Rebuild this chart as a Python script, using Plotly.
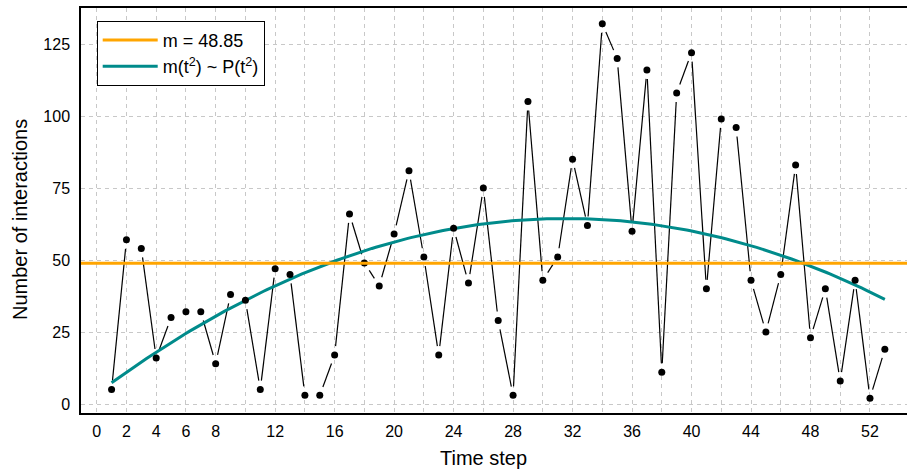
import numpy as np
import plotly.graph_objects as go

# ---- data ----
time_step = list(range(1, 54))
interactions = [5, 57, 54, 16, 30, 32, 32, 14, 38, 36,
                5, 47, 45, 3, 3, 17, 66, 49, 41, 59,
                81, 51, 17, 61, 42, 75, 29, 3, 105, 43,
                51, 85, 62, 132, 120, 60, 116, 11, 108, 122,
                40, 99, 96, 43, 25, 45, 83, 23, 40, 8,
                43, 2, 19]
x_tick_vals = list(range(0, 53, 2))
x_tick_text = ["0", "2", "4", "6", "8", "", "12", "", "16", "", "20", "", "24", "",
               "28", "", "32", "", "36", "", "40", "", "44", "", "48", "", "52"]
y_tick_vals = [0, 25, 50, 75, 100, 125]

t = np.array(time_step, dtype=float)
y = np.array(interactions, dtype=float)
mean_val = y.mean()
coef = np.polyfit(t, y, 2)
t_fit = np.linspace(t.min(), t.max(), 200)
y_fit = np.polyval(coef, t_fit)

# ---- layout geometry ----
W, H = 907, 471
ML, MR, MT, MB = 81, 0, 8, 58
x_range = [-1.056, 54.49]
y_range = [-3.125, 137.5]
sx = (W - ML - MR) / (x_range[1] - x_range[0])
sy = (H - MT - MB) / (y_range[1] - y_range[0])
GAP = 9.0  # px gap around points (type="b" style)

seg_x, seg_y = [], []
for i in range(len(t) - 1):
    dxp = (t[i + 1] - t[i]) * sx
    dyp = (y[i + 1] - y[i]) * sy
    L = np.hypot(dxp, dyp)
    if L <= 2 * GAP:
        continue
    f = GAP / L
    dx = t[i + 1] - t[i]
    dy = y[i + 1] - y[i]
    seg_x += [t[i] + f * dx, t[i + 1] - f * dx, None]
    seg_y += [y[i] + f * dy, y[i + 1] - f * dy, None]

ORANGE = "#FFA500"
TEAL = "#008B8B"
FONT = "Liberation Sans, Arial, sans-serif"

fig = go.Figure()
fig.add_trace(go.Scatter(x=seg_x, y=seg_y, mode="lines",
                         line=dict(color="black", width=1.2),
                         showlegend=False, hoverinfo="skip"))
fig.add_shape(type="line", xref="x domain", yref="y", x0=0, x1=1,
              y0=mean_val, y1=mean_val, line=dict(color=ORANGE, width=3))
fig.add_trace(go.Scatter(x=[None], y=[None], mode="lines",
                         line=dict(color=ORANGE, width=3),
                         name=f"m = {mean_val:.2f}"))
fig.add_trace(go.Scatter(x=t_fit, y=y_fit, mode="lines",
                         line=dict(color=TEAL, width=3),
                         name="m(t<sup>2</sup>) ~ P(t<sup>2</sup>)"))
fig.add_trace(go.Scatter(x=t, y=y, mode="markers",
                         marker=dict(color="black", size=7),
                         showlegend=False))

fig.update_layout(
    width=W, height=H,
    margin=dict(l=ML, r=MR, t=MT, b=MB),
    paper_bgcolor="white", plot_bgcolor="white",
    font=dict(family=FONT, color="black", size=16),
    legend=dict(x=(96.7 - ML) / (W - ML - MR), y=(H - MB - 20.7) / (H - MT - MB),
                xanchor="left", yanchor="top", itemwidth=55,
                bordercolor="black", borderwidth=1, bgcolor="white",
                font=dict(size=18, family=FONT)),
    annotations=[
        dict(text="Time step", x=(483 - ML) / (W - ML - MR), y=(H - MB - 458) / (H - MT - MB),
             xref="paper", yref="paper", showarrow=False, xanchor="center", yanchor="middle",
             font=dict(size=20, family=FONT)),
        dict(text="Number of interactions", x=(20 - ML) / (W - ML - MR),
             y=(H - MB - 220) / (H - MT - MB), textangle=-90,
             xref="paper", yref="paper", showarrow=False, xanchor="center", yanchor="middle",
             font=dict(size=20, family=FONT)),
    ],
)
fig.update_xaxes(range=x_range, tickvals=x_tick_vals, ticktext=x_tick_text,
                 showgrid=True, gridcolor="#c8c8c8", griddash="4px,4px", gridwidth=1,
                 showline=True, linecolor="black", linewidth=1.5, mirror=True,
                 ticks="outside", ticklen=3, tickcolor="rgba(0,0,0,0)",
                 zeroline=False, tickfont=dict(size=16))
fig.update_yaxes(range=y_range, tickvals=y_tick_vals,
                 showgrid=True, gridcolor="#c8c8c8", griddash="4px,4px", gridwidth=1,
                 showline=True, linecolor="black", linewidth=1.5, mirror=False,
                 ticks="outside", ticklen=6, tickcolor="rgba(0,0,0,0)",
                 zeroline=False, tickfont=dict(size=16))

fig.write_html("out.html", config={"displayModeBar": False},
               post_script="document.body.style.margin='0';document.body.style.overflow='hidden';")
